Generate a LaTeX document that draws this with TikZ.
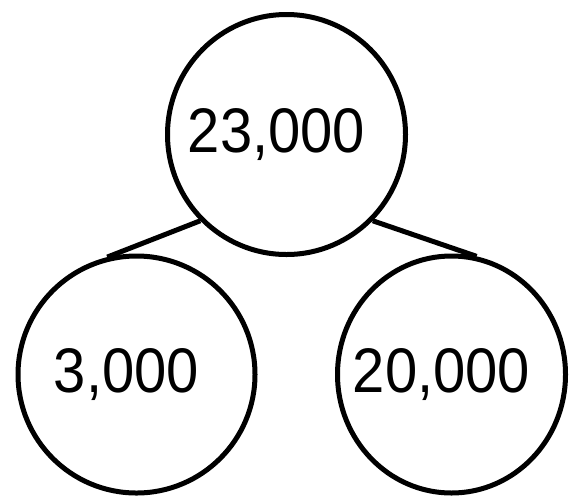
\documentclass[tikz,border=0pt]{standalone}
\usepackage{fontspec}
\newfontfamily\numfont[FakeStretch=0.92]{Liberation Sans}
\usetikzlibrary{shapes.geometric}
\begin{document}
\begin{tikzpicture}
[x=1pt,y=-1pt,every node/.style={ellipse,draw=black,fill=white,line width=5pt,inner sep=0pt,font=\numfont\fontsize{63}{65}\selectfont}]
\def \lw {5pt}
\def \pad {\kern-20pt} % text sits a bit left of centre
\useasboundingbox (0,0) rectangle (569,496);
\node[minimum width=238pt,minimum height=240pt](whole) at (286.5,134.5) {\pad 23,000};
\node[minimum width=237pt,minimum height=237pt](part1) at (136.5,374.5) {\pad 3,000};
\node[minimum width=228pt,minimum height=237pt](part2) at (451.5,374.5) {\pad 20,000};
\draw[line width=\lw] (whole.225) to (part1.104) ;
\draw[line width=\lw] (whole.-45) to (part2.78) ;
\end{tikzpicture}
\end{document}
